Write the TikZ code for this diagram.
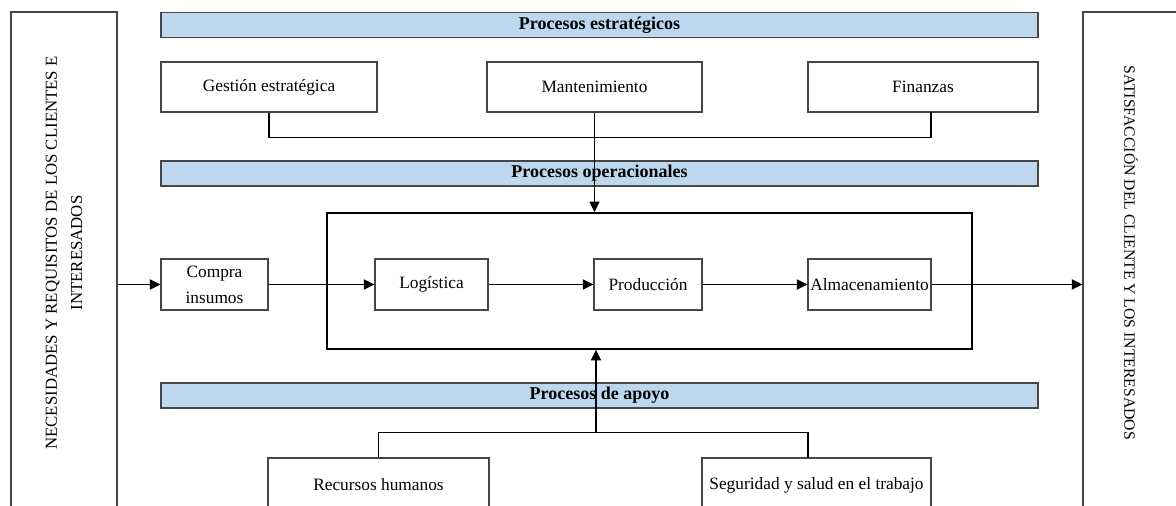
\documentclass[tikz,border=0pt]{standalone}
\usepackage{fontspec}
\setmainfont{Liberation Serif}
\usetikzlibrary{arrows.meta}
\definecolor{barblue}{RGB}{189,215,238}
\definecolor{edge}{RGB}{70,70,70}
\begin{document}
\begin{tikzpicture}[x=0.75pt,y=-0.75pt,
  txt/.style={font=\fontsize{12.6}{19}\selectfont},
  bar/.style={draw=edge, fill=barblue, line width=0.8pt, inner sep=0pt, minimum width=657.75pt, minimum height=18.75pt, font=\fontsize{13.5}{16}\selectfont\bfseries},
  pbox/.style={draw=edge, fill=white, line width=0.8pt, inner sep=0pt, align=center, font=\fontsize{13}{19.5}\selectfont},
  side/.style={draw=edge, line width=0.8pt, inner sep=0pt, minimum height=390pt},
  conn/.style={line width=1.35pt, black},
  arr/.style={conn, -{Triangle[length=8pt,width=7.5pt]}}
]
\path[use as bounding box] (0,0) rectangle (1176,506);
\clip (0,0) rectangle (1176,506);

% side boxes
\node[side, minimum width=79.5pt] (L) at (64,272) {};
\node[side, minimum width=80.25pt] (R) at (1136.5,272) {};
\node[txt, rotate=90, align=center] (Ltxt) at (64,253) {NECESIDADES Y REQUISITOS DE LOS CLIENTES E\\INTERESADOS};
\node[txt, rotate=-90, font=\fontsize{11.8}{19}\selectfont] (Rtxt) at (1131,253) {SATISFACCIÓN DEL CLIENTE Y LOS INTERESADOS};

% bars
\node[bar] (bs) at (599.5,25) {Procesos estratégicos};
\node[bar] (bo) at (599.5,173.5) {Procesos operacionales};
\node[bar] (ba) at (599.5,395.5) {Procesos de apoyo};

% strategic processes
\node[pbox, minimum width=162pt, minimum height=37.5pt] (ge) at (269,87) {Gestión estratégica};
\node[pbox, minimum width=161.25pt, minimum height=37.5pt] (ma) at (594.5,87) {Mantenimiento};
\node[pbox, minimum width=172.5pt, minimum height=37.5pt] (fi) at (923,87) {Finanzas};

% operational frame
\node[draw, line width=1.2pt, inner sep=0pt, minimum width=483.75pt, minimum height=102pt] (op) at (649.5,281) {};

% operational processes
\node[pbox, minimum width=80.25pt, minimum height=38.25pt] (co) at (214.5,284.5) {Compra\\insumos};
\node[pbox, minimum width=84.75pt, minimum height=38.25pt] (lo) at (431.5,284.5) {Logística};
\node[pbox, minimum width=81pt, minimum height=38.25pt] (pr) at (648,284.5) {Producción};
\node[pbox, minimum width=92.25pt, minimum height=38.25pt] (al) at (869.5,284.5) {Almacenamiento};

% support processes
\node[pbox, minimum width=165.75pt, minimum height=40.5pt] (rh) at (378.5,485) {Recursos humanos};
\node[pbox, minimum width=171.75pt, minimum height=40.5pt] (ss) at (816.5,485) {Seguridad y salud en el trabajo};

% connectors
\coordinate (fij) at (931,112);
\draw[conn] (ge.south) -- ++(0,25) -| (fij);
\draw[arr] (ma.south) -- (ma.south |- op.north);

\draw[arr] (L.east |- co.west) -- (co.west);
\draw[arr] (co.east) -- (lo.west);
\draw[arr] (lo.east) -- (pr.west);
\draw[arr] (pr.east) -- (al.west);
\draw[arr] (al.east) -- (R.west |- al.east);

\coordinate (ssj) at (808,458);
\coordinate (apj) at (596,433);
\draw[conn] (rh.north) -- ++(0,-25) -| (ssj);
\draw[arr] (apj) -- (apj |- op.south);
\end{tikzpicture}
\end{document}
